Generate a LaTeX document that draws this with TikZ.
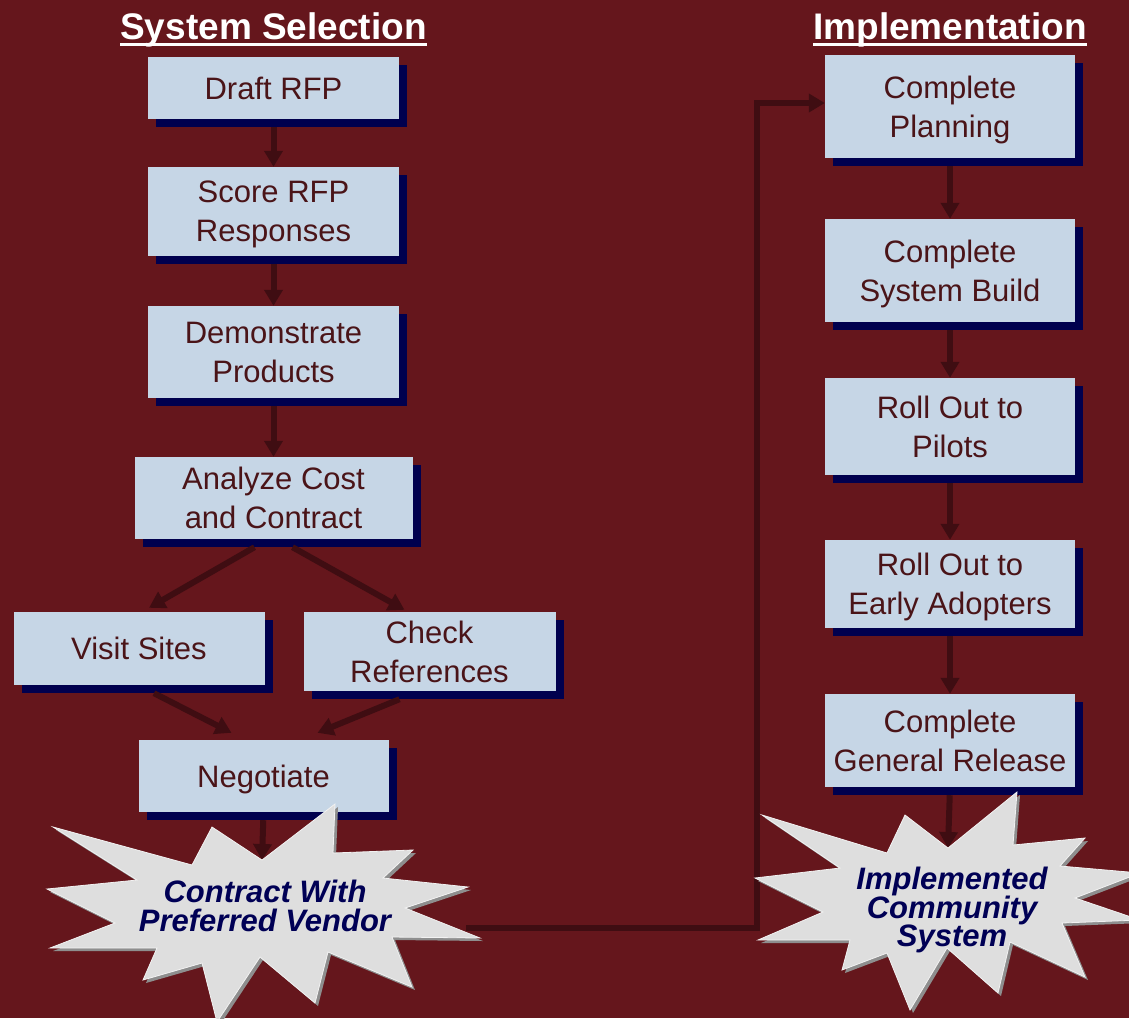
\documentclass[tikz,border=0pt]{standalone}
\usepackage{fontspec}
\setmainfont{Liberation Sans}
\usepackage{xcolor}
\usetikzlibrary{positioning, arrows.meta, shadows}
\definecolor{bgred}{HTML}{65161C}
\definecolor{boxfill}{HTML}{C6D6E6}
\definecolor{boxtext}{HTML}{4A1418}
\definecolor{shadownavy}{HTML}{00004E}
\definecolor{linkcol}{HTML}{3F0D12}
\definecolor{starfill}{HTML}{DEDEDE}
\definecolor{starshade}{HTML}{8E8E8E}
\definecolor{starrim}{HTML}{F2F2F2}
\definecolor{startext}{HTML}{000055}
\newcommand{\headrule}[1]{\setbox0\hbox{#1}\rlap{\rule[-6.5pt]{\wd0}{3pt}}\box0}
\newcommand{\tightlines}{\lineskiplimit=-100pt\relax}
\tikzset{
    heading/.style={
        text=white,
        font=\fontsize{37}{44}\selectfont\bfseries,
        inner sep=0pt,
    },
    stepbox/.style={
        rectangle,
        fill=boxfill,
        text=boxtext,
        font=\fontsize{31}{39}\selectfont,
        align=center,
        text depth=-2.5pt,
        inner sep=0pt,
        minimum width=251pt,
        drop shadow={shadow xshift=8pt, shadow yshift=-8pt, fill=shadownavy, opacity=1},
    },
    arrowline/.style={
        draw=linkcol,
        line width=6pt,
        -{Triangle[width=18pt,length=16pt]},
    },
    burstlabel/.style={
        text=startext,
        font=\fontsize{31}{28.5}\selectfont\bfseries\itshape\tightlines,
        align=center,
        inner sep=0pt,
    },
    pics/burstleft/.style={code={
        \path[pic actions] (53,827) -- (192,865) -- (212,827) -- (262,860) -- (335,804) -- (333,853)
            -- (413,850) -- (383,878) -- (468,887) -- (405,908) -- (480,938) -- (392,937)
            -- (412,987) -- (328,952) -- (315,1003) -- (260,957) -- (217,1022) -- (202,963)
            -- (143,980) -- (157,948) -- (50,948) -- (115,923) -- (47,889) -- (137,880) -- cycle;
    }},
    pics/burstright/.style={code={
        \path[pic actions] (762,815) -- (887,853) -- (905,815) -- (948,848) -- (1017,792) -- (1013,845)
            -- (1085,838) -- (1060,866) -- (1140,873) -- (1075,898) -- (1140,920) -- (1062,923)
            -- (1085,977) -- (1010,942) -- (998,993) -- (947,948) -- (910,1010) -- (887,953)
            -- (842,970) -- (850,940) -- (758,940) -- (823,912) -- (755,878) -- (840,868) -- cycle;
    }},
}

\begin{document}
\begin{tikzpicture}[x=1pt, y=-1pt, on grid]
      \useasboundingbox (0,0) rectangle (1129,1018);
      \fill[bgred] (0,0) rectangle (1129,1018);

      % headings
      \node[heading, anchor=base] (selhead) at (273.5,39.5) {\headrule{System Selection}};
      \node[heading, anchor=base] (imphead) at (950,39.5) {\headrule{Implementation}};

      % system selection
      \node[stepbox, minimum height=62pt] (draft) at (273.5,88) {Draft RFP};
      \node[stepbox, minimum height=89pt, below=123.5pt of draft] (score) {Score RFP\\Responses};
      \node[stepbox, minimum height=92pt, below=140.5pt of score] (demo) {Demonstrate\\Products};
      \node[stepbox, minimum height=82pt, minimum width=278pt, below=146pt of demo] (analyze) {Analyze Cost\\and Contract};

      \node[stepbox, minimum height=73pt, below left=150.5pt and 134.5pt of analyze] (visit) {Visit Sites};
      \node[stepbox, minimum height=79pt, minimum width=252pt, below right=153.5pt and 156pt of analyze] (check) {Check\\References};
      \node[stepbox, minimum height=72pt, minimum width=250pt, below left=278pt and 10pt of analyze] (nego) {Negotiate};

      % implementation
      \node[stepbox, minimum height=103pt, minimum width=250pt] (plan) at (950,106.5) {Complete\\Planning};
      \node[stepbox, minimum height=103pt, minimum width=250pt, below=164pt of plan] (build) {Complete\\System Build};
      \node[stepbox, minimum height=97pt, minimum width=250pt, below=156pt of build] (pilots) {Roll Out to\\Pilots};
      \node[stepbox, minimum height=88pt, minimum width=250pt, below=157.5pt of pilots] (early) {Roll Out to\\Early Adopters};
      \node[stepbox, minimum height=93pt, minimum width=250pt, below=156.5pt of early] (release) {Complete\\General Release};

      \coordinate (cvtop) at (262,860);
      \coordinate (donetop) at (948,848);
      \coordinate (cvout) at (466,928);

      \draw[arrowline, shorten <=8pt] (draft) -- (score);
      \draw[arrowline, shorten <=8pt] (score) -- (demo);
      \draw[arrowline, shorten <=8pt] (demo) -- (analyze);
      \draw[arrowline] ([xshift=-19pt, yshift=-8pt]analyze.south) -- ([xshift=10pt, yshift=4pt]visit.north);
      \draw[arrowline] ([xshift=19pt, yshift=-8pt]analyze.south) -- ([xshift=-25pt, yshift=2pt]check.north);
      \draw[arrowline] ([xshift=15pt, yshift=-8pt]visit.south) -- ([xshift=-32pt, yshift=7pt]nego.north);
      \draw[arrowline] ([xshift=-30pt, yshift=-8pt]check.south) -- ([xshift=54pt, yshift=7pt]nego.north);
      \draw[arrowline, shorten <=8pt] (nego.south) -- (cvtop);

      \draw[arrowline, shorten <=8pt] (plan) -- (build);
      \draw[arrowline, shorten <=8pt] (build) -- (pilots);
      \draw[arrowline, shorten <=8pt] (pilots) -- (early);
      \draw[arrowline, shorten <=8pt] (early) -- (release);
      \draw[arrowline, shorten <=8pt] (release.south) -- (donetop);

      \draw[arrowline] (cvout) -| ([xshift=-68pt, yshift=3.5pt]plan.west) -- ([yshift=3.5pt]plan.west);

      % bursts
      \pic[fill=starshade] at (3,3) {burstleft};
      \pic[fill=starfill, draw=starrim, line width=0.8pt] at (0,0) {burstleft};
      \node[burstlabel] (cv) at (265,906) {Contract With\\Preferred Vendor};

      \pic[fill=starshade] at (3,3) {burstright};
      \pic[fill=starfill, draw=starrim, line width=0.8pt] at (0,0) {burstright};
      \node[burstlabel] (done) at (952,910) {Implemented\\Community\\System};

    \end{tikzpicture}
\end{document}
